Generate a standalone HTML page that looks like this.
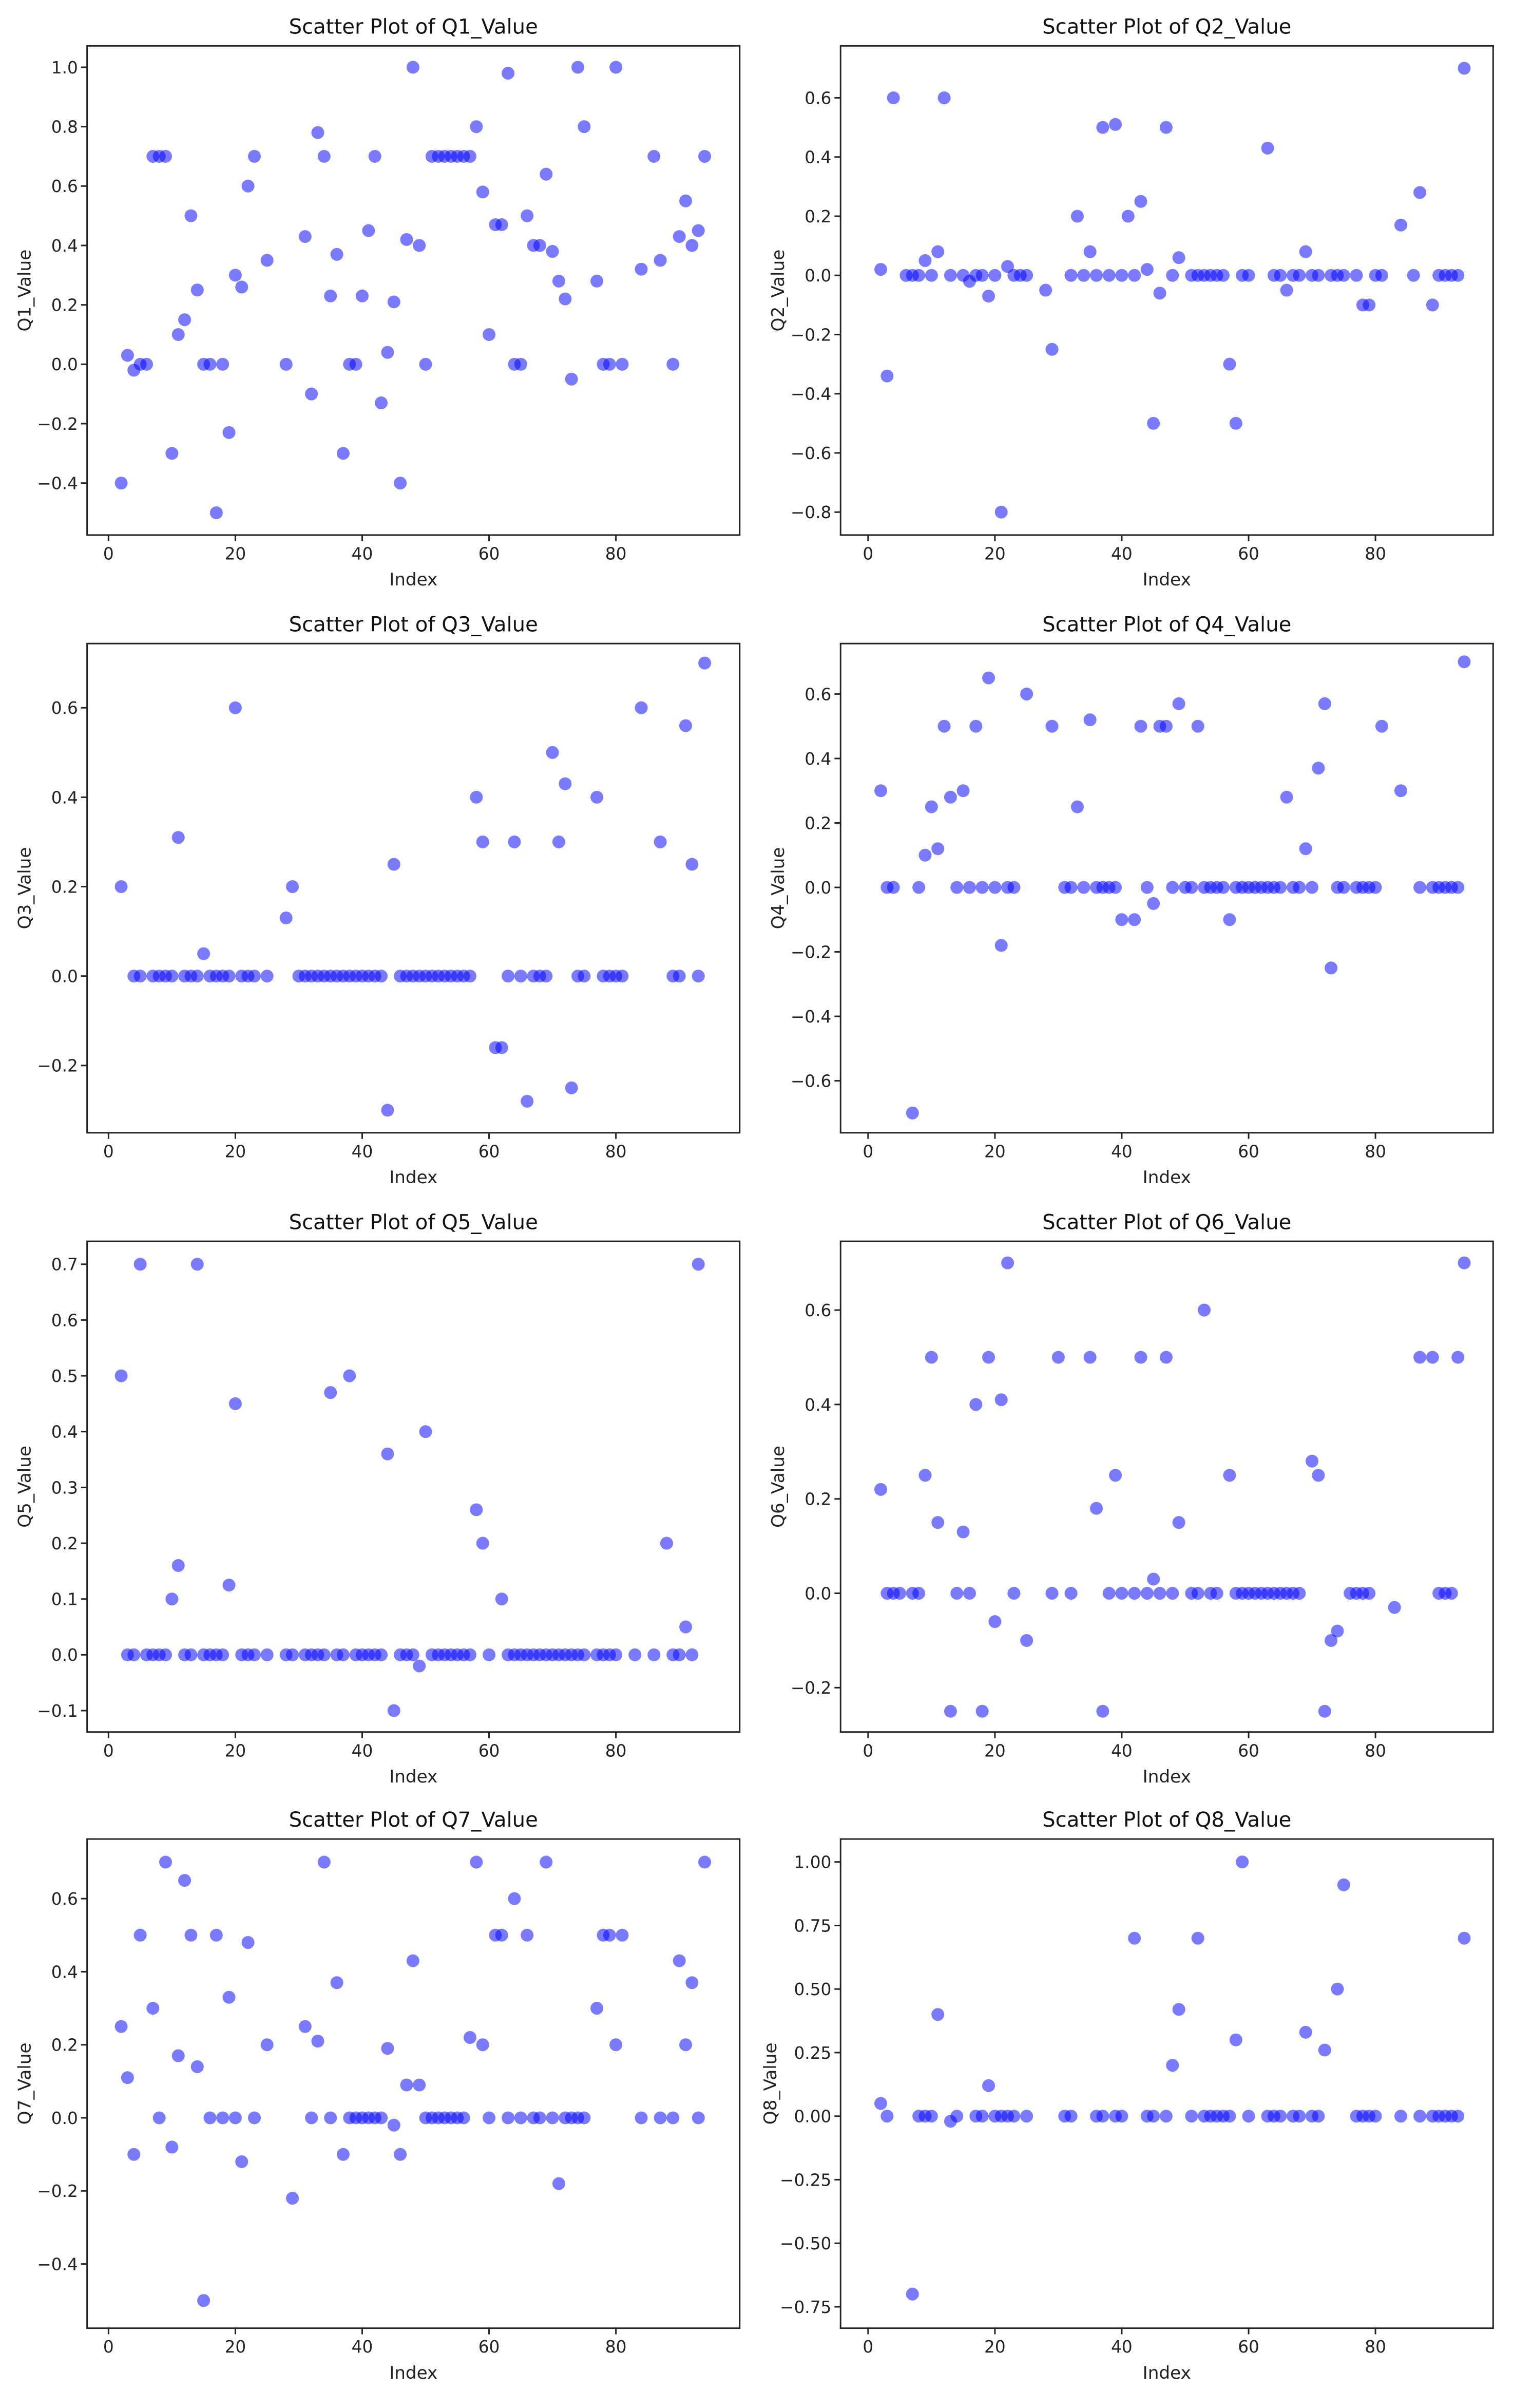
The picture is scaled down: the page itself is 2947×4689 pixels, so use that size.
<!DOCTYPE html>
<html><head><meta charset="utf-8"><style>
html,body{margin:0;padding:0;background:#fff;}
svg{display:block;font-family:"DejaVu Sans","Liberation Sans",sans-serif;}
</style></head><body>
<svg id="fig" width="2947" height="4689" viewBox="0 0 990 1575.2" preserveAspectRatio="none" xmlns="http://www.w3.org/2000/svg"></svg>
<script>
const q1 = [[2,-.4],[3,.03],[4,-.02],[5,0],[6,0],[7,.7],[8,.7],[9,.7],[10,-.3],[11,.1],[12,.15],[13,.5],[14,.25],[15,0],[16,0],[17,-.5],[18,0],[19,-.23],[20,.3],[21,.26],[22,.6],[23,.7],[25,.35],[28,0],[31,.43],[32,-.1],[33,.78],[34,.7],[35,.23],[36,.37],[37,-.3],[38,0],[39,0],[40,.23],[41,.45],[42,.7],[43,-.13],[44,.04],[45,.21],[46,-.4],[47,.42],[48,1.0],[49,.4],[50,0],[51,.7],[52,.7],[53,.7],[54,.7],[55,.7],[56,.7],[57,.7],[58,.8],[59,.58],[60,.1],[61,.47],[62,.47],[63,.98],[64,0],[65,0],[66,.5],[67,.4],[68,.4],[69,.64],[70,.38],[71,.28],[72,.22],[73,-.05],[74,1.0],[75,.8],[77,.28],[78,0],[79,0],[80,1.0],[81,0],[84,.32],[86,.7],[87,.35],[89,0],[90,.43],[91,.55],[92,.4],[93,.45],[94,.7]];
const q2 = [[2,.02],[3,-.34],[4,.6],[6,0],[7,0],[8,0],[9,.05],[10,0],[11,.08],[12,.6],[13,0],[15,0],[16,-.02],[17,0],[18,0],[19,-.07],[20,0],[21,-.8],[22,.03],[23,0],[24,0],[25,0],[28,-.05],[29,-.25],[32,0],[33,.2],[34,0],[35,.08],[36,0],[37,.5],[38,0],[39,.51],[40,0],[41,.2],[42,0],[43,.25],[44,.02],[45,-.5],[46,-.06],[47,.5],[48,0],[49,.06],[51,0],[52,0],[53,0],[54,0],[55,0],[56,0],[57,-.3],[58,-.5],[59,0],[60,0],[63,.43],[64,0],[65,0],[66,-.05],[67,0],[68,0],[69,.08],[70,0],[71,0],[73,0],[74,0],[75,0],[77,0],[78,-.1],[79,-.1],[80,0],[81,0],[84,.17],[86,0],[87,.28],[89,-.1],[90,0],[91,0],[92,0],[93,0],[94,.7]];
const q3 = [[2,.2],[4,0],[5,0],[7,0],[8,0],[9,0],[10,0],[11,.31],[12,0],[13,0],[14,0],[15,.05],[16,0],[17,0],[18,0],[19,0],[20,.6],[21,0],[22,0],[23,0],[25,0],[28,.13],[29,.2],[30,0],[31,0],[32,0],[33,0],[34,0],[35,0],[36,0],[37,0],[38,0],[39,0],[40,0],[41,0],[42,0],[43,0],[44,-.3],[45,.25],[46,0],[47,0],[48,0],[49,0],[50,0],[51,0],[52,0],[53,0],[54,0],[55,0],[56,0],[57,0],[58,.4],[59,.3],[61,-.16],[62,-.16],[63,0],[64,.3],[65,0],[66,-.28],[67,0],[68,0],[69,0],[70,.5],[71,.3],[72,.43],[73,-.25],[74,0],[75,0],[77,.4],[78,0],[79,0],[80,0],[81,0],[84,.6],[87,.3],[89,0],[90,0],[91,.56],[92,.25],[93,0],[94,.7]];
const q4 = [[2,.3],[3,0],[4,0],[7,-.7],[8,0],[9,.1],[10,.25],[11,.12],[12,.5],[13,.28],[14,0],[15,.3],[16,0],[17,.5],[18,0],[19,.65],[20,0],[21,-.18],[22,0],[23,0],[25,.6],[29,.5],[31,0],[32,0],[33,.25],[34,0],[35,.52],[36,0],[37,0],[38,0],[39,0],[40,-.1],[42,-.1],[43,.5],[44,0],[45,-.05],[46,.5],[47,.5],[48,0],[49,.57],[50,0],[51,0],[52,.5],[53,0],[54,0],[55,0],[56,0],[57,-.1],[58,0],[59,0],[60,0],[61,0],[62,0],[63,0],[64,0],[65,0],[66,.28],[67,0],[68,0],[69,.12],[70,0],[71,.37],[72,.57],[73,-.25],[74,0],[75,0],[77,0],[78,0],[79,0],[80,0],[81,.5],[84,.3],[87,0],[89,0],[90,0],[91,0],[92,0],[93,0],[94,.7]];
const q5 = [[2,.5],[3,0],[4,0],[5,.7],[6,0],[7,0],[8,0],[9,0],[10,.1],[11,.16],[12,0],[13,0],[14,.7],[15,0],[16,0],[17,0],[18,0],[19,.125],[20,.45],[21,0],[22,0],[23,0],[25,0],[28,0],[29,0],[31,0],[32,0],[33,0],[34,0],[35,.47],[36,0],[37,0],[38,.5],[39,0],[40,0],[41,0],[42,0],[43,0],[44,.36],[45,-.1],[46,0],[47,0],[48,0],[49,-.02],[50,.4],[51,0],[52,0],[53,0],[54,0],[55,0],[56,0],[57,0],[58,.26],[59,.2],[60,0],[62,.1],[63,0],[64,0],[65,0],[66,0],[67,0],[68,0],[69,0],[70,0],[71,0],[72,0],[73,0],[74,0],[75,0],[77,0],[78,0],[79,0],[80,0],[83,0],[86,0],[88,.2],[89,0],[90,0],[91,.05],[92,0],[93,.7]];
const q6 = [[2,.22],[3,0],[4,0],[5,0],[7,0],[8,0],[9,.25],[10,.5],[11,.15],[13,-.25],[14,0],[15,.13],[16,0],[17,.4],[18,-.25],[19,.5],[20,-.06],[21,.41],[22,.7],[23,0],[25,-.1],[29,0],[30,.5],[32,0],[35,.5],[36,.18],[37,-.25],[38,0],[39,.25],[40,0],[42,0],[43,.5],[44,0],[45,.03],[46,0],[47,.5],[48,0],[49,.15],[51,0],[52,0],[53,.6],[54,0],[55,0],[57,.25],[58,0],[59,0],[60,0],[61,0],[62,0],[63,0],[64,0],[65,0],[66,0],[67,0],[68,0],[70,.28],[71,.25],[72,-.25],[73,-.1],[74,-.08],[76,0],[77,0],[78,0],[79,0],[83,-.03],[87,.5],[89,.5],[90,0],[91,0],[92,0],[93,.5],[94,.7]];
const q7 = [[2,.25],[3,.11],[4,-.1],[5,.5],[7,.3],[8,0],[9,.7],[10,-.08],[11,.17],[12,.65],[13,.5],[14,.14],[15,-.5],[16,0],[17,.5],[18,0],[19,.33],[20,0],[21,-.12],[22,.48],[23,0],[25,.2],[29,-.22],[31,.25],[32,0],[33,.21],[34,.7],[35,0],[36,.37],[37,-.1],[38,0],[39,0],[40,0],[41,0],[42,0],[43,0],[44,.19],[45,-.02],[46,-.1],[47,.09],[48,.43],[49,.09],[50,0],[51,0],[52,0],[53,0],[54,0],[55,0],[56,0],[57,.22],[58,.7],[59,.2],[60,0],[61,.5],[62,.5],[63,0],[64,.6],[65,0],[66,.5],[67,0],[68,0],[69,.7],[70,0],[71,-.18],[72,0],[73,0],[74,0],[75,0],[77,.3],[78,.5],[79,.5],[80,.2],[81,.5],[84,0],[87,0],[89,0],[90,.43],[91,.2],[92,.37],[93,0],[94,.7]];
const q8 = [[2,.05],[3,0],[7,-.7],[8,0],[9,0],[10,0],[11,.4],[13,-.02],[14,0],[17,0],[18,0],[19,.12],[20,0],[21,0],[22,0],[23,0],[25,0],[31,0],[32,0],[36,0],[37,0],[39,0],[40,0],[42,.7],[44,0],[45,0],[47,0],[48,.2],[49,.42],[51,0],[52,.7],[53,0],[54,0],[55,0],[56,0],[57,0],[58,.3],[59,1.0],[60,0],[63,0],[64,0],[65,0],[67,0],[68,0],[69,.33],[70,0],[71,0],[72,.26],[74,.5],[75,.91],[77,0],[78,0],[79,0],[80,0],[84,0],[87,0],[89,0],[90,0],[91,0],[92,0],[93,0],[94,.7]];
const xTicks = [0,20,40,60,80];
const yTicks1 = [-0.4,-0.2,0,0.2,0.4,0.6,0.8,1.0];
const yTicks2 = [-0.8,-0.6,-0.4,-0.2,0,0.2,0.4,0.6];
const yTicks3 = [-0.2,0,0.2,0.4,0.6];
const yTicks4 = [-0.6,-0.4,-0.2,0,0.2,0.4,0.6];
const yTicks5 = [-0.1,0,0.1,0.2,0.3,0.4,0.5,0.6,0.7];
const yTicks6 = [-0.2,0,0.2,0.4,0.6];
const yTicks7 = [-0.4,-0.2,0,0.2,0.4,0.6];
const yTicks8 = [-0.75,-0.5,-0.25,0,0.25,0.5,0.75,1.0];

const NS="http://www.w3.org/2000/svg";
const svg=document.getElementById('fig');
function mk(tag,attrs,parent){const e=document.createElementNS(NS,tag);for(const k in attrs)e.setAttribute(k,attrs[k]);(parent||svg).appendChild(e);return e;}
function fmt(v,dec){const s=Math.abs(v).toFixed(dec);return (v<0?'\u2212':'')+s;}

// panel layout: [data, ticks, decimals, name, col, row, yTop value ref: v1,p1,v2,p2]
const panels=[
 {d:q1,t:yTicks1,dec:1,n:'Q1',col:0,row:0,v1:1.0,p1:44,v2:-0.4,p2:316},
 {d:q2,t:yTicks2,dec:1,n:'Q2',col:1,row:0,v1:0.6,p1:64,v2:-0.8,p2:335},
 {d:q3,t:yTicks3,dec:1,n:'Q3',col:0,row:1,v1:0.6,p1:463,v2:-0.2,p2:697},
 {d:q4,t:yTicks4,dec:1,n:'Q4',col:1,row:1,v1:0.6,p1:454,v2:-0.6,p2:707},
 {d:q5,t:yTicks5,dec:1,n:'Q5',col:0,row:2,v1:0.7,p1:827,v2:-0.1,p2:1119},
 {d:q6,t:yTicks6,dec:1,n:'Q6',col:1,row:2,v1:0.6,p1:857,v2:-0.2,p2:1104},
 {d:q7,t:yTicks7,dec:1,n:'Q7',col:0,row:3,v1:0.6,p1:1242,v2:-0.4,p2:1481},
 {d:q8,t:yTicks8,dec:2,n:'Q8',col:1,row:3,v1:1.0,p1:1218,v2:-0.75,p2:1509}
];
const colL=[57,550], colR=[484,977], colX0=[71,568], unit=4.15;
const rowT=[30,421,812,1203], rowB=[350,741,1133,1523];

panels.forEach(p=>{
  const L=colL[p.col],R=colR[p.col],T=rowT[p.row],B=rowB[p.row];
  const xs=v=>colX0[p.col]+v*unit;
  const ys=v=>p.p1+(v-p.v1)*(p.p2-p.p1)/(p.v2-p.v1);
  const g=mk('g',{});
  
  
  const title=mk('text',{x:(L+R)/2,y:T-8,'text-anchor':'middle','font-size':13.5,fill:'#111'},g);
  title.textContent='Scatter Plot of '+p.n+'_Value';
  
  
  // points
  const pts=mk('g',{},g);
  
  
  p.d.forEach(([x,y])=>{
    const c=mk('circle',{cx:xs(x),cy:ys(y),r:4.2,fill:'rgba(0,0,255,0.52)'},pts);
    
    
  });
  const frame=mk('rect',{x:L,y:T,width:R-L,height:B-T,fill:'none',stroke:'#222','stroke-width':1},g);
  
  
  xTicks.forEach(v=>{
    const x=xs(v);
    mk('line',{x1:x,x2:x,y1:B,y2:B+4,stroke:'#222','stroke-width':1},g);
    const t=mk('text',{x:x,y:B+16,'text-anchor':'middle','font-size':11,fill:'#222'},g);
    t.textContent=v;
    
    
  });
  p.t.forEach(v=>{
    const y=ys(v);
    mk('line',{x1:L-4,x2:L,y1:y,y2:y,stroke:'#222','stroke-width':1},g);
    const t=mk('text',{x:L-6,y:y+4,'text-anchor':'end','font-size':11,fill:'#222'},g);
    t.textContent=fmt(v,p.dec);
    
    
  });
  const xl=mk('text',{x:(L+R)/2,y:B+33,'text-anchor':'middle','font-size':11.5,fill:'#222'},g);
  xl.textContent='Index';
  
  
  const yx=L-(p.dec===2?42:37), yy=(T+B)/2;
  const yl=mk('text',{x:yx,y:yy,'text-anchor':'middle','font-size':11.5,fill:'#222',transform:`rotate(-90 ${yx} ${yy})`},g);
  yl.textContent=p.n+'_Value';
  
  
});
</script>
</body></html>
